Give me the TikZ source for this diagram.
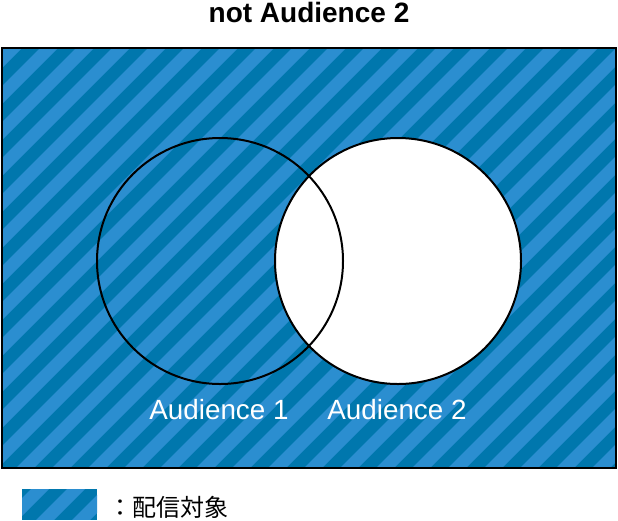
\documentclass[tikz,border=0pt]{standalone}
\usepackage{fontspec}
\setmainfont{Liberation Sans}
\newfontfamily\cjkfont{Noto Sans CJK JP}

% Colors of the stripes
\definecolor{r0g119b173}{RGB}{0,119,173}
\definecolor{r43g142b208}{RGB}{43,142,208}

\tikzset{
  venn line/.style={line width=2pt},
  venn title/.style={inner sep=0pt, anchor=base, font=\fontsize{28}{32}\selectfont\bfseries},
  venn label/.style={inner sep=0pt, anchor=base, text=white, font=\fontsize{27.8}{32}\selectfont},
  legend text/.style={inner sep=0pt, anchor=base west, font=\fontsize{24}{28}\selectfont\cjkfont},
}

% Filling a rectangle by stripes
\newcommand{\hatchbox}[4]{%
  \begin{scope}
    \clip (#1,#2) rectangle (#3,#4);
    \fill[r0g119b173] (#1,#2) rectangle (#3,#4);
    \foreach \k in {-3,...,31}
      \fill[r43g142b208] ({88+36*\k},0) -- ++(18,0) -- ++(-700,700) -- ++(-18,0) -- cycle;
  \end{scope}}

\begin{document}
\begin{tikzpicture}[x=1pt,y=-1pt]
\useasboundingbox (0,0) rectangle (618,520);

% Title
\node[venn title] (title) at (309,22) {not Audience 2};

% Filling the box by stripes
\hatchbox{2}{48}{616}{468}

% Filling circle Audience 2
\fill[white] (398,261) circle (123pt);

% Drawing circles
\draw[venn line] (220,261) circle (123pt);
\draw[venn line] (398,261) circle (123pt);

% Drawing box
\draw[venn line] (2,48) rectangle (616,468);

% Labels
\node[venn label] (aud1) at (219,419) {Audience 1};
\node[venn label] (aud2) at (397,419) {Audience 2};

% Legend
\hatchbox{22}{489}{97}{519.5}
\node[legend text] (legend) at (108,516) {：配信対象};
\end{tikzpicture}
\end{document}
